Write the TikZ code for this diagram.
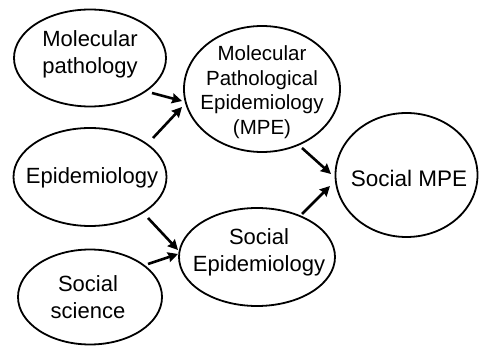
\documentclass[tikz,border=0pt]{standalone}
\usepackage{fontspec}
\setmainfont{Liberation Sans}
\usetikzlibrary{shapes.geometric,arrows.meta}
\begin{document}
\begin{tikzpicture}[x=1pt,y=-1pt,
  oval/.style={draw, ellipse, line width=1.8pt, inner sep=0pt},
  txt/.style={align=center, font=\fontsize{22}{27}\selectfont, inner sep=0pt},
  smalltxt/.style={align=center, font=\fontsize{20.5}{24.5}\selectfont, inner sep=0pt},
  arr/.style={line width=2.6pt, -{Stealth[length=10pt,width=10pt,inset=1pt]}}]
\useasboundingbox (0,0) rectangle (479,347);
% ellipses
\node[oval, minimum width=152pt, minimum height=97pt] (mp) at (90,58) {};
\node[oval, minimum width=153pt, minimum height=98pt] (ep) at (90,177) {};
\node[oval, minimum width=144pt, minimum height=95pt] (ss) at (90,297) {};
\node[oval, minimum width=156pt, minimum height=126pt] (mpe) at (262,89) {};
\node[oval, minimum width=156pt, minimum height=98pt] (se) at (257,257) {};
\node[oval, minimum width=142pt, minimum height=124pt] (smpe) at (406.5,175) {};
% texts
\node[txt] (mpt) at (90,54) {Molecular\\pathology};
\node[txt] (ept) at (92,178) {Epidemiology};
\node[txt] (sst) at (88,297) {Social\\science};
\node[smalltxt] (mpet) at (262,92) {Molecular\\Pathological\\Epidemiology\\(MPE)};
\node[txt] (set) at (259,252) {Social\\Epidemiology};
\node[txt, font=\fontsize{22.5}{27}\selectfont] (smpet) at (409,178) {Social MPE};
% arrow end points
\coordinate (a1s) at (152,93);  \coordinate (a1e) at (182,101);
\coordinate (a2s) at (153,138); \coordinate (a2e) at (182,107);
\coordinate (a3s) at (148,218); \coordinate (a3e) at (178,250);
\coordinate (a4s) at (148,264); \coordinate (a4e) at (178,254);
\coordinate (a5s) at (302,148); \coordinate (a5e) at (331,174);
\coordinate (a6s) at (302,214); \coordinate (a6e) at (330,186);
\draw[arr] (a1s) -- (a1e);
\draw[arr] (a2s) -- (a2e);
\draw[arr] (a3s) -- (a3e);
\draw[arr] (a4s) -- (a4e);
\draw[arr] (a5s) -- (a5e);
\draw[arr] (a6s) -- (a6e);
\end{tikzpicture}
\end{document}
